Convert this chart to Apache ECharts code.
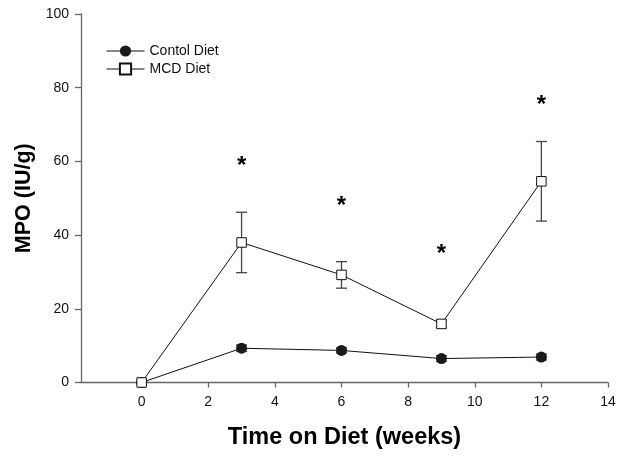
<!DOCTYPE html>
<html>
<head>
<meta charset="utf-8">
<script src="https://cdn.jsdelivr.net/npm/echarts@6/dist/echarts.min.js"></script>
<style>
html,body{margin:0;padding:0;background:#fff;}
#chart{width:624px;height:457px;}
</style>
</head>
<body>
<div id="chart"></div>
<script>
var weeks = [0, 3, 6, 9, 12];
var controlMean = [0, 9.3, 8.7, 6.5, 6.9];
var controlSem = [0, 0.9, 0.7, 0.8, 0.8];
var mcdMean = [0, 38.0, 29.2, 15.9, 54.6];
var mcdSem = [0, 8.2, 3.6, 1.0, 10.8];
var sigWeeks = [3, 6, 9, 12];
var sigY = [60.2, 49.5, 36.4, 76.8];
var xTicks = [0, 2, 4, 6, 8, 10, 12, 14];

var FONT = 'Liberation Sans, Arial, sans-serif';

function pairs(xs, ys) { return xs.map(function (x, i) { return [x, ys[i]]; }); }
function errData(xs, m, s) { return xs.map(function (x, i) { return [x, m[i] - s[i], m[i] + s[i]]; }); }

function errRender(params, api) {
  var x = api.value(0);
  var lo = api.coord([x, api.value(1)]);
  var hi = api.coord([x, api.value(2)]);
  var w = 5.5;
  var st = { stroke: '#444', lineWidth: 1.3 };
  return {
    type: 'group',
    children: [
      { type: 'line', shape: { x1: lo[0], y1: lo[1], x2: hi[0], y2: hi[1] }, style: st },
      { type: 'line', shape: { x1: lo[0] - w, y1: lo[1], x2: lo[0] + w, y2: lo[1] }, style: st },
      { type: 'line', shape: { x1: hi[0] - w, y1: hi[1], x2: hi[0] + w, y2: hi[1] }, style: st }
    ]
  };
}

function starRender(params, api) {
  var p = api.coord([api.value(0), api.value(1)]);
  return {
    type: 'text',
    style: {
      text: '*', x: p[0], y: p[1] + 6,
      textAlign: 'center', textVerticalAlign: 'middle',
      font: 'bold 24px ' + FONT, fill: '#000'
    }
  };
}

var chart = echarts.init(document.getElementById('chart'), null, { renderer: 'canvas' });
chart.setOption({
  animation: false,
  backgroundColor: '#fff',
  textStyle: { fontFamily: FONT },
  grid: { left: 81, right: 16, top: 14, bottom: 74.5, containLabel: false },
  legend: {
    left: 101, top: 39, orient: 'vertical',
    itemWidth: 38, itemHeight: 14, itemGap: 4,
    lineStyle: { width: 1 },
    textStyle: { fontFamily: FONT, fontSize: 14, color: '#111' },
    data: ['Contol Diet', 'MCD Diet']
  },
  xAxis: {
    type: 'value', min: -1.82, max: 14,
    name: 'Time on Diet (weeks)', nameLocation: 'middle', nameGap: 43,
    nameTextStyle: { fontFamily: FONT, fontSize: 23.5, fontWeight: 'bold', color: '#000' },
    axisLine: { show: true, onZero: false, lineStyle: { color: '#666', width: 1.3 } },
    axisTick: { show: true, customValues: xTicks, length: 5, lineStyle: { color: '#666', width: 1.3 } },
    axisLabel: { customValues: xTicks, margin: 13, fontSize: 14, color: '#111', fontFamily: FONT },
    splitLine: { show: false }
  },
  yAxis: {
    type: 'value', min: 0, max: 100, interval: 20,
    name: 'MPO (IU/g)', nameLocation: 'middle', nameGap: 42,
    nameTextStyle: { fontFamily: FONT, fontSize: 21.5, fontWeight: 'bold', color: '#000' },
    axisLine: { show: true, onZero: false, lineStyle: { color: '#666', width: 1.3 } },
    axisTick: { show: true, length: 6, lineStyle: { color: '#666', width: 1.3 } },
    axisLabel: { margin: 12, fontSize: 14, color: '#111', fontFamily: FONT },
    splitLine: { show: false }
  },
  series: [
    { type: 'custom', name: 'errC', renderItem: errRender, data: errData(weeks, controlMean, controlSem), z: 1, silent: true },
    { type: 'custom', name: 'errM', renderItem: errRender, data: errData(weeks, mcdMean, mcdSem), z: 1, silent: true },
    {
      type: 'line', name: 'Contol Diet', data: pairs(weeks, controlMean), z: 3,
      symbol: 'circle', symbolSize: 11,
      lineStyle: { color: '#111', width: 1 },
      itemStyle: { color: '#1a1a1a', borderColor: '#1a1a1a', borderWidth: 0 }
    },
    {
      type: 'line', name: 'MCD Diet', data: pairs(weeks, mcdMean), z: 4,
      symbol: 'rect', symbolSize: 9.5,
      lineStyle: { color: '#111', width: 1 },
      itemStyle: { color: '#fff', borderColor: '#111', borderWidth: 1 }
    },
    { type: 'custom', name: 'sig', renderItem: starRender, data: pairs(sigWeeks, sigY), z: 5, silent: true }
  ]
});
</script>
</body>
</html>
